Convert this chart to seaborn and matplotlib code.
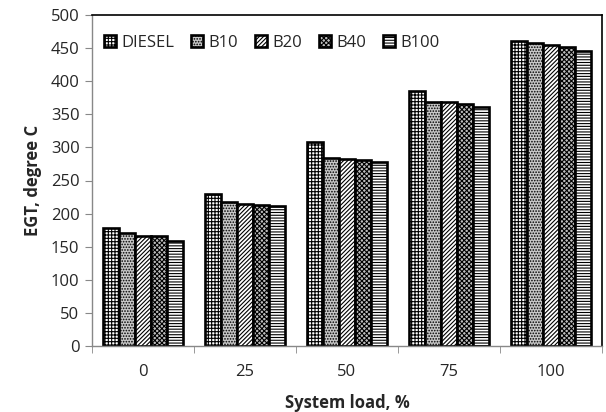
import matplotlib
matplotlib.use("Agg")
import matplotlib.pyplot as plt
import seaborn as sns
import pandas as pd
import numpy as np

loads = ["0", "25", "50", "75", "100"]
fuels = ["DIESEL", "B10", "B20", "B40", "B100"]
diesel = [178, 229, 308, 385, 461]
b10 = [171, 217, 284, 368, 458]
b20 = [166, 215, 283, 368, 454]
b40 = [166, 213, 281, 365, 452]
b100 = [158, 212, 278, 361, 446]

series = {"DIESEL": diesel, "B10": b10, "B20": b20, "B40": b40, "B100": b100}
rows = []
for f in fuels:
    for l, v in zip(loads, series[f]):
        rows.append({"load": l, "fuel": f, "egt": v})
df = pd.DataFrame(rows)

sns.set_style("white")
plt.rcParams['font.family'] = ['Open Sans', 'DejaVu Sans']
plt.rcParams['hatch.linewidth'] = 0.8

fig = plt.figure(figsize=(6.06, 4.12), dpi=100)
ax = fig.add_axes([92/606, 1 - 346/412, (602-92)/606, (346-15)/412])

sns.barplot(data=df, x="load", y="egt", hue="fuel", order=loads, hue_order=fuels,
            ax=ax, width=0.78, palette=["white"]*5, edgecolor="black",
            linewidth=1.9, saturation=1, errorbar=None)

hatches = ["+++++", "......", "////////", "xxxxxxx", "------"]
faces = ["white", "#c8c8c8", "white", "#bdbdbd", "white"]
for cont, h, fc in zip(ax.containers, hatches, faces):
    for bar in cont:
        bar.set_hatch(h)
        bar.set_facecolor(fc)
        bar.set_edgecolor("black")

ax.set_ylim(0, 500)
ax.set_xlim(-0.5, 4.5)
ax.set_yticks(range(0, 501, 50))
ax.set_xlabel("System load, %", fontsize=12, fontweight="bold", labelpad=10)
ax.set_ylabel("EGT, degree C", fontsize=12, fontweight="bold", labelpad=6)
ax.tick_params(axis="y", labelsize=12, length=5, color="#888888", direction="out", left=True, pad=4)
ax.tick_params(axis="x", labelsize=12, length=0, pad=13)
ax.set_xticks([-0.5, 0.5, 1.5, 2.5, 3.5, 4.5], minor=True)
ax.tick_params(axis="x", which="minor", length=5, color="#888888", bottom=True)

for s in ["top", "right"]:
    ax.spines[s].set_visible(True)
    ax.spines[s].set_color("black")
    ax.spines[s].set_linewidth(1.2)
for s in ["left", "bottom"]:
    ax.spines[s].set_color("#888888")
    ax.spines[s].set_linewidth(1.0)

handles, labels = ax.get_legend_handles_labels()
for hnd, h, fc in zip(handles, hatches, faces):
    hnd.set_hatch(h)
    hnd.set_facecolor(fc)
    hnd.set_edgecolor("black")
ax.legend(handles, labels, loc="upper left", bbox_to_anchor=(0.0, 0.975), ncol=5, frameon=False,
          fontsize=12, handlelength=0.75, handleheight=0.75, handletextpad=0.3, columnspacing=1.0,
          borderaxespad=0.3)

fig.savefig("out.png", dpi=100)
